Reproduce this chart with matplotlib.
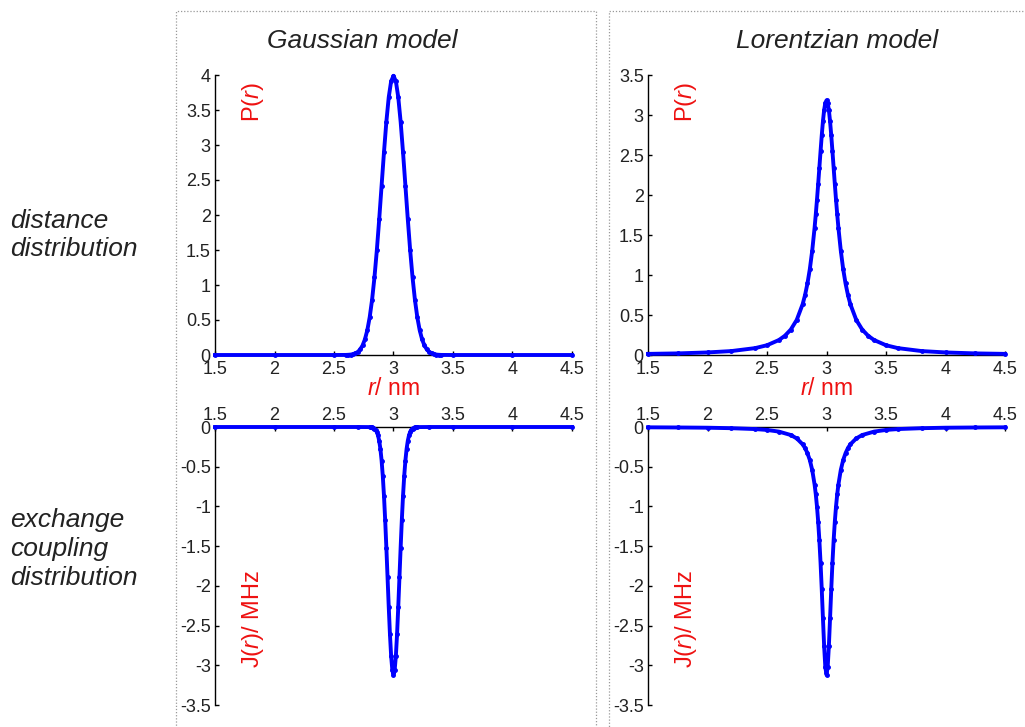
import matplotlib.pyplot as plt
from matplotlib.patches import Rectangle

plt.rcParams['font.family'] = ['Liberation Sans', 'DejaVu Sans']
plt.rcParams['mathtext.fontset'] = 'custom'
plt.rcParams['mathtext.rm'] = 'Liberation Sans'
plt.rcParams['mathtext.it'] = 'Liberation Sans:italic'
plt.rcParams['axes.unicode_minus'] = False

# Gaussian model: distance distribution P(r)
gauss_r = [1.50, 2.00, 2.50, 2.60, 2.62, 2.64, 2.66, 2.68, 2.70, 2.72, 2.74, 2.76, 2.78,
           2.80, 2.82, 2.84, 2.86, 2.88, 2.90, 2.92, 2.94, 2.96, 2.98, 3.00,
           3.02, 3.04, 3.06, 3.08, 3.10, 3.12, 3.14, 3.16, 3.18, 3.20, 3.22, 3.24,
           3.26, 3.28, 3.30, 3.32, 3.34, 3.36, 3.38, 3.40, 3.50, 4.00, 4.50]
gauss_p = [0.000, 0.000, 0.000, 0.001, 0.003, 0.006, 0.012, 0.024, 0.044, 0.079, 0.136, 0.224, 0.355,
           0.540, 0.789, 1.109, 1.497, 1.942, 2.420, 2.897, 3.332, 3.683, 3.910, 3.989,
           3.910, 3.683, 3.332, 2.897, 2.420, 1.942, 1.497, 1.109, 0.789, 0.540, 0.355, 0.224,
           0.136, 0.079, 0.044, 0.024, 0.012, 0.006, 0.003, 0.001, 0.000, 0.000, 0.000]

# Gaussian model: exchange coupling J(r)
gauss_jr = [1.50, 2.00, 2.50, 2.70, 2.80, 2.81, 2.82, 2.83, 2.84, 2.85, 2.86, 2.87, 2.88, 2.89,
            2.90, 2.91, 2.92, 2.93, 2.94, 2.95, 2.96, 2.97, 2.98, 2.99, 3.00,
            3.01, 3.02, 3.03, 3.04, 3.05, 3.06, 3.07, 3.08, 3.09, 3.10, 3.11, 3.12,
            3.13, 3.14, 3.15, 3.16, 3.17, 3.18, 3.19, 3.20, 3.30, 3.50, 4.00, 4.50]
gauss_j = [0.000, 0.000, 0.000, 0.000, -0.001, -0.002, -0.005, -0.010, -0.019, -0.035, -0.062, -0.106, -0.175, -0.277,
           -0.422, -0.617, -0.867, -1.171, -1.519, -1.892, -2.265, -2.606, -2.880, -3.058, -3.120,
           -3.058, -2.880, -2.606, -2.265, -1.892, -1.519, -1.171, -0.867, -0.617, -0.422, -0.277, -0.175,
           -0.106, -0.062, -0.035, -0.019, -0.010, -0.005, -0.002, -0.001, 0.000, 0.000, 0.000, 0.000]

# Lorentzian model: distance distribution P(r)
lor_r = [1.50, 1.75, 2.00, 2.20, 2.40, 2.50, 2.60, 2.65, 2.70, 2.75, 2.80, 2.82, 2.84, 2.86, 2.88,
         2.90, 2.91, 2.92, 2.93, 2.94, 2.95, 2.96, 2.97, 2.98, 2.99, 3.00,
         3.01, 3.02, 3.03, 3.04, 3.05, 3.06, 3.07, 3.08, 3.09, 3.10,
         3.12, 3.14, 3.16, 3.18, 3.20, 3.25, 3.30, 3.35, 3.40, 3.50, 3.60, 3.80, 4.00, 4.25, 4.50]
lor_p = [0.014, 0.020, 0.032, 0.049, 0.086, 0.122, 0.187, 0.240, 0.318, 0.439, 0.637, 0.751, 0.894, 1.075, 1.305,
         1.592, 1.759, 1.941, 2.136, 2.341, 2.546, 2.744, 2.920, 3.061, 3.151, 3.183,
         3.151, 3.061, 2.920, 2.744, 2.546, 2.341, 2.136, 1.941, 1.759, 1.592,
         1.305, 1.075, 0.894, 0.751, 0.637, 0.439, 0.318, 0.240, 0.187, 0.122, 0.086, 0.049, 0.032, 0.020, 0.014]

# Lorentzian model: exchange coupling J(r)
lor_jr = [1.50, 1.75, 2.00, 2.20, 2.40, 2.50, 2.60, 2.70, 2.75, 2.80, 2.82, 2.84, 2.86, 2.88,
          2.90, 2.91, 2.92, 2.93, 2.94, 2.95, 2.96, 2.97, 2.98, 2.99, 3.00,
          3.01, 3.02, 3.03, 3.04, 3.05, 3.06, 3.07, 3.08, 3.09, 3.10,
          3.12, 3.14, 3.16, 3.18, 3.20, 3.25, 3.30, 3.40, 3.50, 3.60, 3.80, 4.00, 4.25, 4.50]
lor_j = [-0.004, -0.006, -0.009, -0.015, -0.026, -0.037, -0.058, -0.101, -0.144, -0.219, -0.266, -0.330, -0.417, -0.542,
         -0.725, -0.848, -1.001, -1.191, -1.425, -1.708, -2.040, -2.405, -2.756, -3.020, -3.120,
         -3.020, -2.756, -2.405, -2.040, -1.708, -1.425, -1.191, -1.001, -0.848, -0.725,
         -0.542, -0.417, -0.330, -0.266, -0.219, -0.144, -0.101, -0.058, -0.037, -0.026, -0.015, -0.009, -0.006, -0.004]

x_ticks = [1.5, 2, 2.5, 3, 3.5, 4, 4.5]
x_labels = ['1.5', '2', '2.5', '3', '3.5', '4', '4.5']
gauss_yticks = [0, 0.5, 1, 1.5, 2, 2.5, 3, 3.5, 4]
lor_yticks = [0, 0.5, 1, 1.5, 2, 2.5, 3, 3.5]
j_yticks = [-3.5, -3, -2.5, -2, -1.5, -1, -0.5, 0]

fig = plt.figure(figsize=(10.25, 7.27), dpi=100)
W, H = 1025, 727
text_col = '#222222'

# dotted frames around each column
for x0, x1 in [(176, 596), (609, 1030)]:
    fig.patches.append(Rectangle((x0 / W, -0.05), (x1 - x0) / W, 1.05 - 11 / H,
                                 transform=fig.transFigure, fill=False,
                                 ls=(0, (1, 1.5)), lw=0.9, ec='#999999'))


def style_axes(ax, bottom_panel):
    ax.set_xlim(1.5, 4.5)
    ax.spines['right'].set_visible(False)
    if bottom_panel:
        ax.spines['bottom'].set_visible(False)
        ax.xaxis.tick_top()
    else:
        ax.spines['top'].set_visible(False)
    for s in ax.spines.values():
        s.set_linewidth(1.0)
    ax.set_xticks(x_ticks)
    ax.set_xticklabels(x_labels)
    ax.tick_params(direction='in', length=3, width=1, labelsize=13, colors='black',
                   labelcolor=text_col, pad=3)
    ax.tick_params(axis='x', pad=2 if bottom_panel else 4)
    ax.patch.set_visible(False)


def draw(ax, r, y):
    ax.plot(r, y, color='#0000ff', lw=2.8, marker='.', ms=5, clip_on=False, zorder=3)


axw = 357 / W
tops = {'top': (75, 355), 'bot': (427, 705)}
for col, left in [('g', 215), ('l', 648)]:
    # top panel
    y0, y1 = tops['top']
    ax = fig.add_axes([left / W, 1 - y1 / H, axw, (y1 - y0) / H])
    style_axes(ax, False)
    if col == 'g':
        draw(ax, gauss_r, gauss_p)
        ax.set_ylim(0, 4)
        ax.set_yticks(gauss_yticks)
        ax.set_yticklabels(['0', '0.5', '1', '1.5', '2', '2.5', '3', '3.5', '4'])
    else:
        draw(ax, lor_r, lor_p)
        ax.set_ylim(0, 3.5)
        ax.set_yticks(lor_yticks)
        ax.set_yticklabels(['0', '0.5', '1', '1.5', '2', '2.5', '3', '3.5'])
    ax.text(0.107, 0.904, 'P($\\mathit{r}$)', rotation=90, color='#ee1111', fontsize=17,
            transform=ax.transAxes, ha='center', va='center')
    ax.text(0.5, -0.118, '$\\mathit{r}$/ nm', color='#ee1111', fontsize=16.5,
            transform=ax.transAxes, ha='center', va='center')

    # bottom panel
    y0, y1 = tops['bot']
    ax = fig.add_axes([left / W, 1 - y1 / H, axw, (y1 - y0) / H])
    style_axes(ax, True)
    draw(ax, gauss_jr if col == 'g' else lor_jr, gauss_j if col == 'g' else lor_j)
    ax.set_ylim(-3.5, 0)
    ax.set_yticks(j_yticks)
    ax.set_yticklabels(['-3.5', '-3', '-2.5', '-2', '-1.5', '-1', '-0.5', '0'])
    ax.text(0.107, 0.309, 'J($\\mathit{r}$)/ MHz', rotation=90, color='#ee1111', fontsize=17,
            transform=ax.transAxes, ha='center', va='center')

fig.text(362 / W, 1 - 41 / H, 'Gaussian model', style='italic', fontsize=19,
         color=text_col, ha='center', va='center')
fig.text(837 / W, 1 - 41 / H, 'Lorentzian model', style='italic', fontsize=19,
         color=text_col, ha='center', va='center')
fig.text(10 / W, 1 - 235 / H, 'distance\ndistribution', style='italic', fontsize=19,
         color=text_col, ha='left', va='center', linespacing=1.25)
fig.text(10 / W, 1 - 549 / H, 'exchange\ncoupling\ndistribution', style='italic', fontsize=19,
         color=text_col, ha='left', va='center', linespacing=1.25)

fig.savefig('out.png', dpi=100)
